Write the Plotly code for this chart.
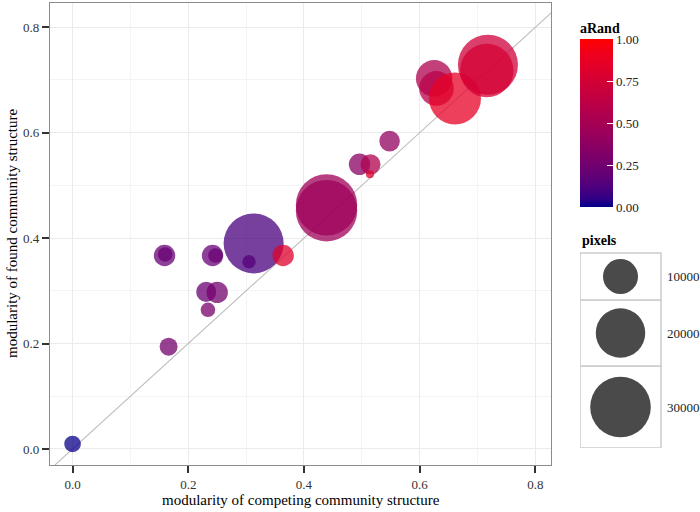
import plotly.graph_objects as go

# ---------------- data ----------------
competing = [0.000, 0.159, 0.160, 0.166, 0.231, 0.250, 0.234, 0.242, 0.247, 0.305,
             0.313, 0.364, 0.439, 0.439, 0.496, 0.515, 0.514, 0.548, 0.625, 0.629,
             0.661, 0.718, 0.716]
found = [0.0095, 0.367, 0.369, 0.194, 0.298, 0.297, 0.264, 0.367, 0.367, 0.355,
         0.390, 0.367, 0.463, 0.452, 0.540, 0.540, 0.521, 0.584, 0.703, 0.684,
         0.665, 0.729, 0.718]
pixels = [2250, 3740, 1740, 2640, 3270, 3740, 1740, 3740, 1740, 1470,
          29400, 3740, 30800, 30800, 3740, 3270, 520, 3460, 10900, 9800,
          22100, 29400, 23300]
arand = [0.01, 0.20, 0.22, 0.26, 0.22, 0.26, 0.28, 0.20, 0.22, 0.25,
         0.11, 0.82, 0.46, 0.46, 0.36, 0.55, 0.80, 0.40, 0.55, 0.60,
         0.86, 0.72, 0.76]
diag = [-0.2, 1.0]
size_legend_values = [10000, 20000, 30000]
size_legend_labels = ["10000", "20000", "30000"]
colorbar_ticks = [0.0, 0.25, 0.5, 0.75, 1.0]
axis_ticks = [0.0, 0.2, 0.4, 0.6, 0.8]

# ---------------- colour scale (Lab interpolation, darkblue -> red) ----------------
def srgb_to_lab(rgb):
    def lin(c):
        c = c / 255.0
        return c / 12.92 if c <= 0.04045 else ((c + 0.055) / 1.055) ** 2.4
    r, g, b = [lin(c) for c in rgb]
    X = 0.4124 * r + 0.3576 * g + 0.1805 * b
    Y = 0.2126 * r + 0.7152 * g + 0.0722 * b
    Z = 0.0193 * r + 0.1192 * g + 0.9505 * b
    X /= 0.95047; Z /= 1.08883
    def f(t):
        return t ** (1 / 3) if t > 0.008856 else 7.787 * t + 16 / 116
    fx, fy, fz = f(X), f(Y), f(Z)
    return (116 * fy - 16, 500 * (fx - fy), 200 * (fy - fz))

def lab_to_srgb(lab):
    L, a, b = lab
    fy = (L + 16) / 116
    fx = fy + a / 500
    fz = fy - b / 200
    def finv(t):
        return t ** 3 if t ** 3 > 0.008856 else (t - 16 / 116) / 7.787
    X, Y, Z = finv(fx) * 0.95047, finv(fy), finv(fz) * 1.08883
    r = 3.2406 * X - 1.5372 * Y - 0.4986 * Z
    g = -0.9689 * X + 1.8758 * Y + 0.0415 * Z
    bb = 0.0557 * X - 0.2040 * Y + 1.0570 * Z
    def gam(c):
        c = max(0.0, min(1.0, c))
        return 12.92 * c if c <= 0.0031308 else 1.055 * c ** (1 / 2.4) - 0.055
    return tuple(int(round(gam(c) * 255)) for c in (r, g, bb))

low, high = srgb_to_lab((0, 0, 139)), srgb_to_lab((255, 0, 0))
colorscale = []
for i in range(21):
    t = i / 20
    lab = tuple(low[k] + (high[k] - low[k]) * t for k in range(3))
    r, g, b = lab_to_srgb(lab)
    colorscale.append([t, f"rgb({r},{g},{b})"])

FONT = "Liberation Serif"
SIZEREF = 16.33  # rendered diameter = sqrt(2 * pixels / SIZEREF)

fig = go.Figure()

fig.add_trace(go.Scatter(
    x=diag, y=diag, mode="lines",
    line=dict(color="#BDBDBD", width=1.1), hoverinfo="skip", showlegend=False,
))

fig.add_trace(go.Scatter(
    x=competing, y=found, mode="markers", showlegend=False,
    marker=dict(
        size=pixels, sizemode="area", sizeref=SIZEREF, sizemin=1,
        color=arand, cmin=0, cmax=1, colorscale=colorscale, opacity=0.75,
        line=dict(width=0),
        colorbar=dict(
            title=dict(text="<b>aRand</b>", side="top",
                       font=dict(family=FONT, size=14, color="#000")),
            x=(580 - 50) / 650, xanchor="left", xpad=0,
            y=(465 - 19) / 462, yanchor="top", ypad=0,
            lenmode="pixels", len=188, thickness=33,
            tickvals=colorbar_ticks, ticktext=[f"{v:.2f}" for v in colorbar_ticks],
            ticks="inside", ticklen=6, tickcolor="white", tickwidth=1,
            outlinewidth=0,
            tickfont=dict(family=FONT, size=13, color="#222"),
        ),
    ),
))

# size legend: auxiliary axis pair in pixel-like units (x from 580px, y from 448px up)
BOX_W, BOX_EDGES = 81, [0, 82, 148, 195]
centers = [(BOX_EDGES[i] + BOX_EDGES[i + 1]) / 2 for i in range(3)][::-1]
for i in range(3):
    fig.add_shape(type="rect", xref="x2", yref="y2", x0=0, x1=BOX_W,
                  y0=BOX_EDGES[i], y1=BOX_EDGES[i + 1], layer="below",
                  line=dict(color="#CCCCCC", width=1.5), fillcolor="white")
fig.add_trace(go.Scatter(
    x=[BOX_W / 2] * 3, y=centers, xaxis="x2", yaxis="y2", mode="markers",
    marker=dict(size=size_legend_values, sizemode="area", sizeref=SIZEREF,
                color="#4A4A4A", opacity=1, line=dict(width=0)),
    showlegend=False, hoverinfo="skip",
))
for lab, c in zip(size_legend_labels, centers):
    fig.add_annotation(text=lab, x=BOX_W + 4, y=c, xref="x2", yref="y2",
                       xanchor="left", yanchor="middle", showarrow=False,
                       font=dict(family=FONT, size=13, color="#222"))
fig.add_annotation(text="<b>pixels</b>", x=0, y=BOX_EDGES[-1] + 3, xref="x2", yref="y2",
                   xanchor="left", yanchor="bottom", showarrow=False,
                   font=dict(family=FONT, size=14, color="#000"))

# axis titles
fig.add_annotation(text="modularity of competing community structure",
                   x=0.5, y=(465 - 500) / 462, xref="x domain", yref="paper",
                   xanchor="center", yanchor="middle", showarrow=False,
                   font=dict(family=FONT, size=15, color="#000"))
fig.add_annotation(text="modularity of found community structure",
                   x=(12 - 50) / 650, y=0.5, xref="paper", yref="paper", textangle=-90,
                   xanchor="center", yanchor="middle", showarrow=False,
                   font=dict(family=FONT, size=15, color="#000"))

axis_common = dict(
    tickvals=axis_ticks, ticktext=[f"{v:.1f}" for v in axis_ticks],
    ticks="outside", ticklen=7, tickwidth=1.8, tickcolor="#333",
    showgrid=True, gridcolor="#EBEBEB", gridwidth=1,
    minor=dict(dtick=0.1, showgrid=True, gridcolor="#F4F4F4", gridwidth=1),
    zeroline=False, showline=True, mirror=True, linecolor="#8C8C8C", linewidth=1.2,
    tickfont=dict(family=FONT, size=13, color="#333"), automargin=False,
)

fig.update_layout(
    width=700, height=512,
    margin=dict(l=50, r=0, t=3, b=47),
    paper_bgcolor="white", plot_bgcolor="white",
    font=dict(family=FONT, color="#000"),
    xaxis=dict(domain=[0, 501 / 650], range=[-0.039, 0.827], **axis_common),
    yaxis=dict(range=[-0.0304, 0.846], **axis_common),
    xaxis2=dict(domain=[(580 - 50) / 650, 1.0], range=[0, 120],
                anchor="y2", visible=False, fixedrange=True),
    yaxis2=dict(domain=[(465 - 448) / 462, (465 - 228) / 462], range=[0, 220],
                anchor="x2", visible=False, fixedrange=True),
)

fig.write_html("out.html", config={"displayModeBar": False},
               post_script="document.body.style.margin='0px';")
